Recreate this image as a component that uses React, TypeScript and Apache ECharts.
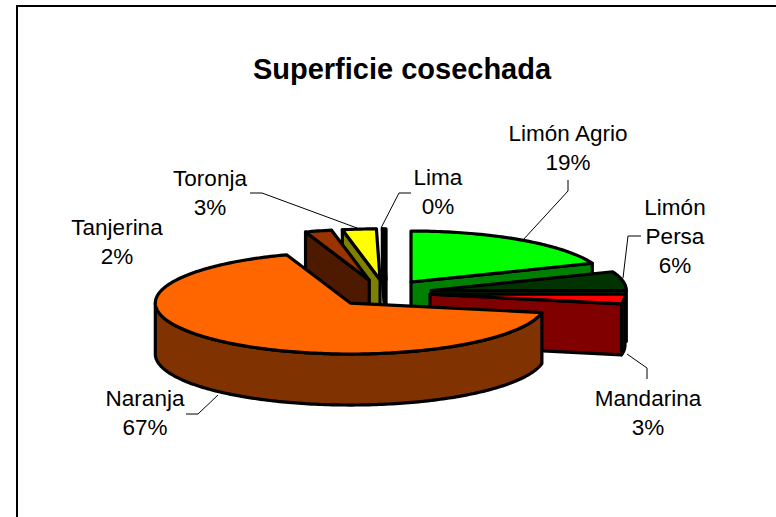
import React, { useEffect, useRef } from "react";
import * as echarts from "echarts";

const categories = ["Limón Agrio", "Limón Persa", "Mandarina", "Naranja", "Tanjerina", "Toronja", "Lima"];
const values = [19, 6, 3, 66.7, 2.2, 2.8, 0.3];
const topColors = ["#00FF00", "#003300", "#FF0000", "#FF6600", "#993300", "#FFFF00", "#000000"];
const sideColors = ["#008000", "#001A00", "#800000", "#803300", "#4D1A00", "#808000", "#000000"];
const labelLines = [["Limón Agrio"], ["Limón", "Persa"], ["Mandarina"], ["Naranja"], ["Tanjerina"], ["Toronja"], ["Lima"]];
const drawOrder = [6, 0, 1, 5, 4, 2, 3];

const CX = 383.5, CY = 293, RX = 195, RY = 51, DEPTH = 51, EXPLODE = 0.26;
const nudgeX = [-1, -2, -4, 0, -1, 2, 3];
const labelPos = [[568, 133], [675, 207], [648, 398], [145, 398], [117, 227], [210, 178], [438, 177]];
const LINE_H = 29;
const leaders: (number[][] | null)[] = [
  [[568, 180], [568, 191], [523, 240]],
  [[641, 236], [628, 236], [623, 278]],
  [[647, 379], [647, 368], [627, 354]],
  [[186, 414], [198, 414], [218, 395]],
  null,
  [[250, 193], [262, 193], [357, 228]],
  [[411, 193], [399, 193], [381, 228]],
];

const total = values.reduce((a, b) => a + b, 0);
const rad = (d: number) => (d * Math.PI) / 180;

function sliceAngles(i: number) {
  const before = values.slice(0, i).reduce((a, b) => a + b, 0);
  return [(before / total) * 360, ((before + values[i]) / total) * 360];
}

function renderSlice(_params: any, api: any) {
  const i = api.value(0);
  const [a, b] = sliceAngles(i);
  const mid = (a + b) / 2;
  const ox = CX + EXPLODE * RX * Math.sin(rad(mid)) + nudgeX[i];
  const oy = CY - EXPLODE * RY * Math.cos(rad(mid));
  const pt = (d: number, h = 0) => [ox + RX * Math.sin(rad(d)), oy - RY * Math.cos(rad(d)) + h];
  const arc = (from: number, to: number, h = 0) => {
    const out: number[][] = [];
    const n = Math.max(1, Math.ceil(to - from));
    for (let k = 0; k <= n; k++) out.push(pt(from + ((to - from) * k) / n, h));
    return out;
  };
  const children: any[] = [];
  const poly = (points: number[][], fill: string) =>
    children.push({
      type: "polygon",
      shape: { points },
      style: { fill, stroke: "#000", lineWidth: 3.2, lineJoin: "round" },
    });
  const face = (d: number) => {
    const p = pt(d);
    const q = pt(d, DEPTH);
    poly([[ox, oy], p, q, [ox, oy + DEPTH]], sideColors[i]);
  };
  if (a > 180) face(a);
  if (b < 180) face(b);
  const w0 = Math.max(a, 90);
  const w1 = Math.min(b, 270);
  if (w1 > w0) poly([...arc(w0, w1), ...arc(w0, w1, DEPTH).reverse()], sideColors[i]);
  poly([[ox, oy], ...arc(a, b)], topColors[i]);
  return { type: "group", children };
}

const sansFont = '"Liberation Sans", Arial, sans-serif';

function buildGraphics() {
  const els: any[] = [
    { type: "line", shape: { x1: 17, y1: 6, x2: 17, y2: 517 }, style: { stroke: "#000", lineWidth: 2 } },
    { type: "line", shape: { x1: 16, y1: 6, x2: 776, y2: 6 }, style: { stroke: "#000", lineWidth: 2 } },
    {
      type: "text", x: 402, y: 69,
      style: { text: "Superficie cosechada", fill: "#000", font: `bold 29px ${sansFont}`, textAlign: "center", textVerticalAlign: "middle" },
    },
  ];
  categories.forEach((_, i) => {
    const lines = [...labelLines[i], `${Math.round((values[i] / total) * 100)}%`];
    lines.forEach((t, k) => {
      els.push({
        type: "text",
        x: labelPos[i][0],
        y: labelPos[i][1] + k * LINE_H,
        style: { text: t, fill: "#000", font: `22.5px ${sansFont}`, textAlign: "center", textVerticalAlign: "middle" },
      });
    });
    const l = leaders[i];
    if (l) {
      els.push({ type: "polyline", shape: { points: l }, style: { stroke: "#000", lineWidth: 1, fill: "none" } });
    }
  });
  return els;
}

export default function App() {
  const ref = useRef<HTMLDivElement>(null);
  useEffect(() => {
    const chart = echarts.init(ref.current!, null, { renderer: "svg" });
    chart.setOption({
      animation: false,
      backgroundColor: "#fff",
      series: [
        {
          type: "custom",
          coordinateSystem: "none",
          renderItem: renderSlice,
          data: drawOrder.map((i) => [i, values[i]]),
          silent: true,
        },
      ],
      graphic: buildGraphics(),
    });
    return () => chart.dispose();
  }, []);
  return <div ref={ref} style={{ position: "absolute", left: 0, top: 0, width: 776, height: 517 }} />;
}
